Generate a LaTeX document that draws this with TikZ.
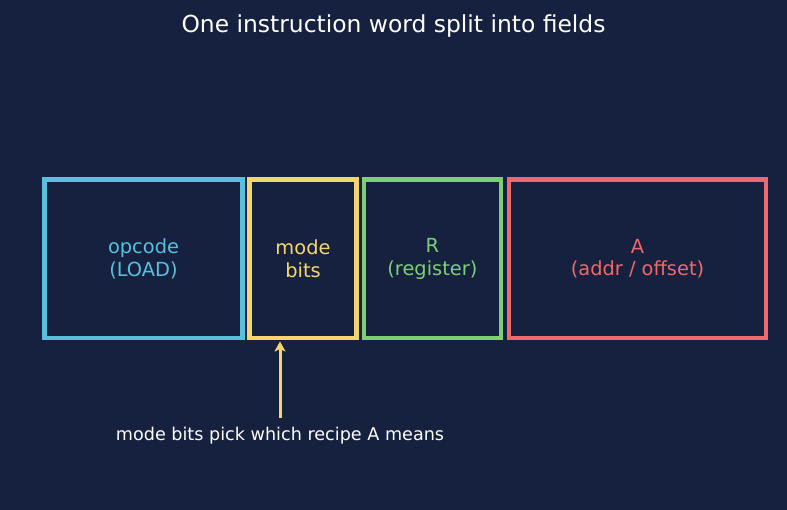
\documentclass[tikz,border=0pt]{standalone}
\usepackage{fontspec}
\setmainfont{DejaVu Sans}
\usetikzlibrary{arrows.meta}
\definecolor{bgc}{RGB}{22,33,64}
\definecolor{cblue}{RGB}{86,192,222}
\definecolor{cyellow}{RGB}{245,214,110}
\definecolor{cgreen}{RGB}{126,207,116}
\definecolor{cred}{RGB}{240,104,104}
\tikzset{
  field/.style={draw=#1, text=#1, line width=4.3pt, minimum height=158.5pt, inner sep=0pt, outer sep=0pt, align=center, font=\fontsize{19.4}{22.5}\selectfont},
  pointer/.style={draw=cyellow, line width=3pt, -{Stealth[length=10pt,width=11pt,inset=2.5pt]}},
}
\begin{document}
\begin{tikzpicture}[x=1pt,y=-1pt]
\fill[bgc] (0,0) rectangle (787,510);
\useasboundingbox (0,0) rectangle (787,510);
\node[text=white, font=\fontsize{23.4}{27}\selectfont] (title) at (393.5,26) {One instruction word split into fields};
\node[field=cblue, minimum width=198pt] (opcode) at (143.5,258.75) {opcode\\(LOAD)};
\node[field=cyellow, minimum width=107pt] (mode) at (303,258.75) {mode\\bits};
\node[field=cgreen, minimum width=136.8pt] (reg) at (432.4,258.75) {R\\(register)};
\node[field=cred, minimum width=257pt] (addr) at (637.5,258.75) {A\\(addr / offset)};
\node[text=white, font=\fontsize{17.6}{20}\selectfont] (note) at (280,436) {mode bits pick which recipe A means};
\coordinate (a0) at (280,418);
\draw[pointer, shorten >=3.5pt] (a0) -- (mode.south -| a0);
\end{tikzpicture}
\end{document}
